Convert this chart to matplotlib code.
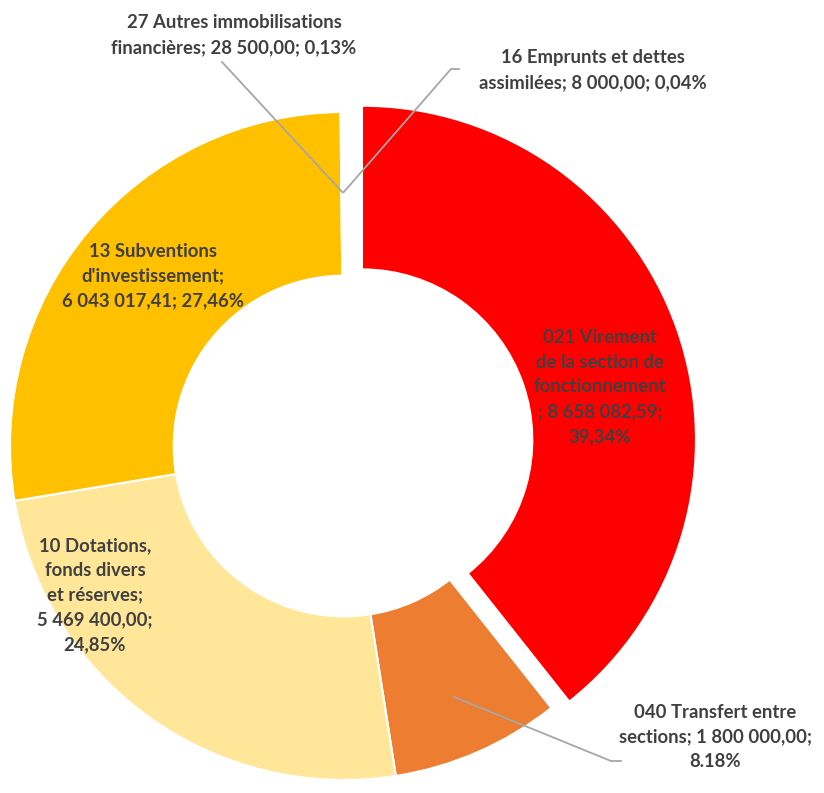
import numpy as np
from matplotlib import pyplot as plt

plt.rcParams['font.family'] = ['Lato', 'DejaVu Sans']

categories = ["021 Virement de la section de fonctionnement",
              "040 Transfert entre sections",
              "10 Dotations, fonds divers et réserves",
              "13 Subventions d'investissement",
              "27 Autres immobilisations financières",
              "16 Emprunts et dettes assimilées"]
values = [8658082.59, 1800000.00, 5469400.00, 6043017.41, 28500.00, 8000.00]
labels = ["021 Virement\nde la section de\nfonctionnement\n; 8 658 082,59;\n39,34%",
          "040 Transfert entre\nsections; 1 800 000,00;\n8.18%",
          "10 Dotations,\nfonds divers\net réserves;\n5 469 400,00;\n24,85%",
          "13 Subventions\nd'investissement;\n6 043 017,41; 27,46%",
          "27 Autres immobilisations\nfinancières; 28 500,00; 0,13%",
          "16 Emprunts et dettes\nassimilées; 8 000,00; 0,04%"]
colors = ["#FF0000", "#ED7D31", "#FFE699", "#FFC000", "#FFFFFF", "#FFFFFF"]
explode = [0.057, 0, 0, 0, 0, 0]

CX, CY, R = 344, 446, 334

fig = plt.figure(figsize=(8.24, 7.93), dpi=100)
ax = fig.add_axes([0, 0, 1, 1])

wedges, _ = ax.pie(values, colors=colors, explode=explode, startangle=90,
                   counterclock=False, radius=1.0,
                   wedgeprops=dict(width=0.49, edgecolor="white", linewidth=1.5))

ax.set_xlim(-CX / R, (824 - CX) / R)
ax.set_ylim(-(793 - CY) / R, CY / R)
ax.set_aspect("equal")
ax.axis("off")

# label positions in pixels (x, y from top)
label_px = [(600, 387), (715, 737), (95, 595), (153, 276), (234, 35), (593, 70)]

def px(x, y):
    return (x - CX) / R, (CY - y) / R

txt = dict(ha="center", va="center", fontsize=13.3, fontweight="bold",
           color="#404040", linespacing=1.55)
for lab, (x, y) in zip(labels, label_px):
    ax.text(*px(x, y), lab, **txt)

def anchor(w, r=0.76):
    a = np.deg2rad((w.theta1 + w.theta2) / 2)
    cx, cy = w.center
    return cx + r * np.cos(a), cy + r * np.sin(a)

line = dict(color="#A6A6A6", lw=1.3)
# 27 Autres
a0 = anchor(wedges[4])
p = px(222, 62)
ax.plot([p[0], a0[0]], [p[1], a0[1]], **line)
# 16 Emprunts
a1 = anchor(wedges[5])
p1, p2 = px(451, 69), px(459, 69)
ax.plot([a1[0], p1[0], p2[0]], [a1[1], p1[1], p2[1]], **line)
# 040 Transfert
a2 = anchor(wedges[1], r=0.82)
q1, q2 = px(611, 761), px(621, 761)
ax.plot([a2[0], q1[0], q2[0]], [a2[1], q1[1], q2[1]], **line)

plt.savefig("out.png", dpi=100)
